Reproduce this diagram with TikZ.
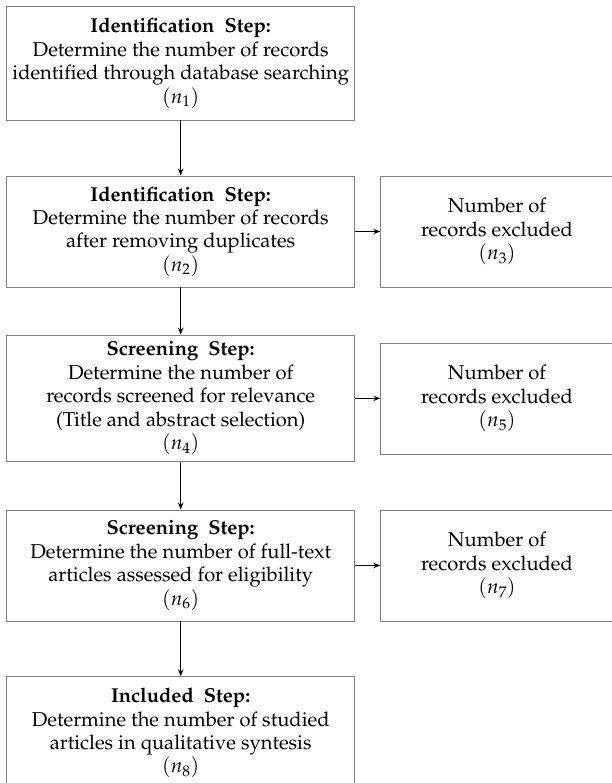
\documentclass[tikz,border=0pt]{standalone}
\usepackage[T1]{fontenc}
\usepackage{mathpazo}
\usetikzlibrary{arrows.meta}
\begin{document}
\begin{tikzpicture}[x=1bp,y=-1bp,
  box/.style={draw=black!50, line width=0.9bp, inner sep=3bp, align=center,
    font=\fontsize{20.2}{23.5}\selectfont,
    minimum width=348bp, minimum height=111bp},
  sidebox/.style={box, minimum width=232.6bp},
  flow/.style={-{Stealth[length=7bp,width=5.5bp]}, line width=1bp, black}]
\useasboundingbox (0,0) rectangle (612,783);

% main column
\node[box, minimum height=113.3bp] (s1) at (180.7,63.35)
  {\textbf{Identification\ \ Step:}\\ Determine the number of records\\ identified through database searching\\ $(n_1)$};
\node[box] (s2) at (180.7,231.5)
  {\textbf{Identification\ \ Step:}\\ Determine the number of records\\ after removing duplicates\\ $(n_2)$};
\node[box, minimum height=126.7bp] (s4) at (180.7,398.35)
  {\textbf{Screening\ \ Step:}\\ Determine the number of\\ records screened for relevance\\ (Title and abstract selection)\\ $(n_4)$};
\node[box] (s6) at (180.7,565.5)
  {\textbf{Screening\ \ Step:}\\ Determine the number of full-text\\ articles assessed for eligibility\\ $(n_6)$};
\node[box, minimum height=113bp] (s8) at (180.7,733.2)
  {\textbf{Included\ \ Step:}\\ Determine the number of studied\\ articles in qualitative syntesis\\ $(n_8)$};

% exclusion column
\node[sidebox] (x3) at (497,231.5) {Number of\\ records excluded\\ $(n_3)$};
\node[sidebox, minimum height=110.7bp] (x5) at (497,398.65) {Number of\\ records excluded\\ $(n_5)$};
\node[sidebox] (x7) at (497,565.5) {Number of\\ records excluded\\ $(n_7)$};

% connectors
\draw[flow] (s1) -- (s2);
\draw[flow] (s2) -- (s4);
\draw[flow] (s4) -- (s6);
\draw[flow] (s6) -- (s8);
\draw[flow] (s2.east) -- (s2.east -| x3.west);
\draw[flow] (s4.east) -- (s4.east -| x5.west);
\draw[flow] (s6.east) -- (s6.east -| x7.west);
\end{tikzpicture}
\end{document}
